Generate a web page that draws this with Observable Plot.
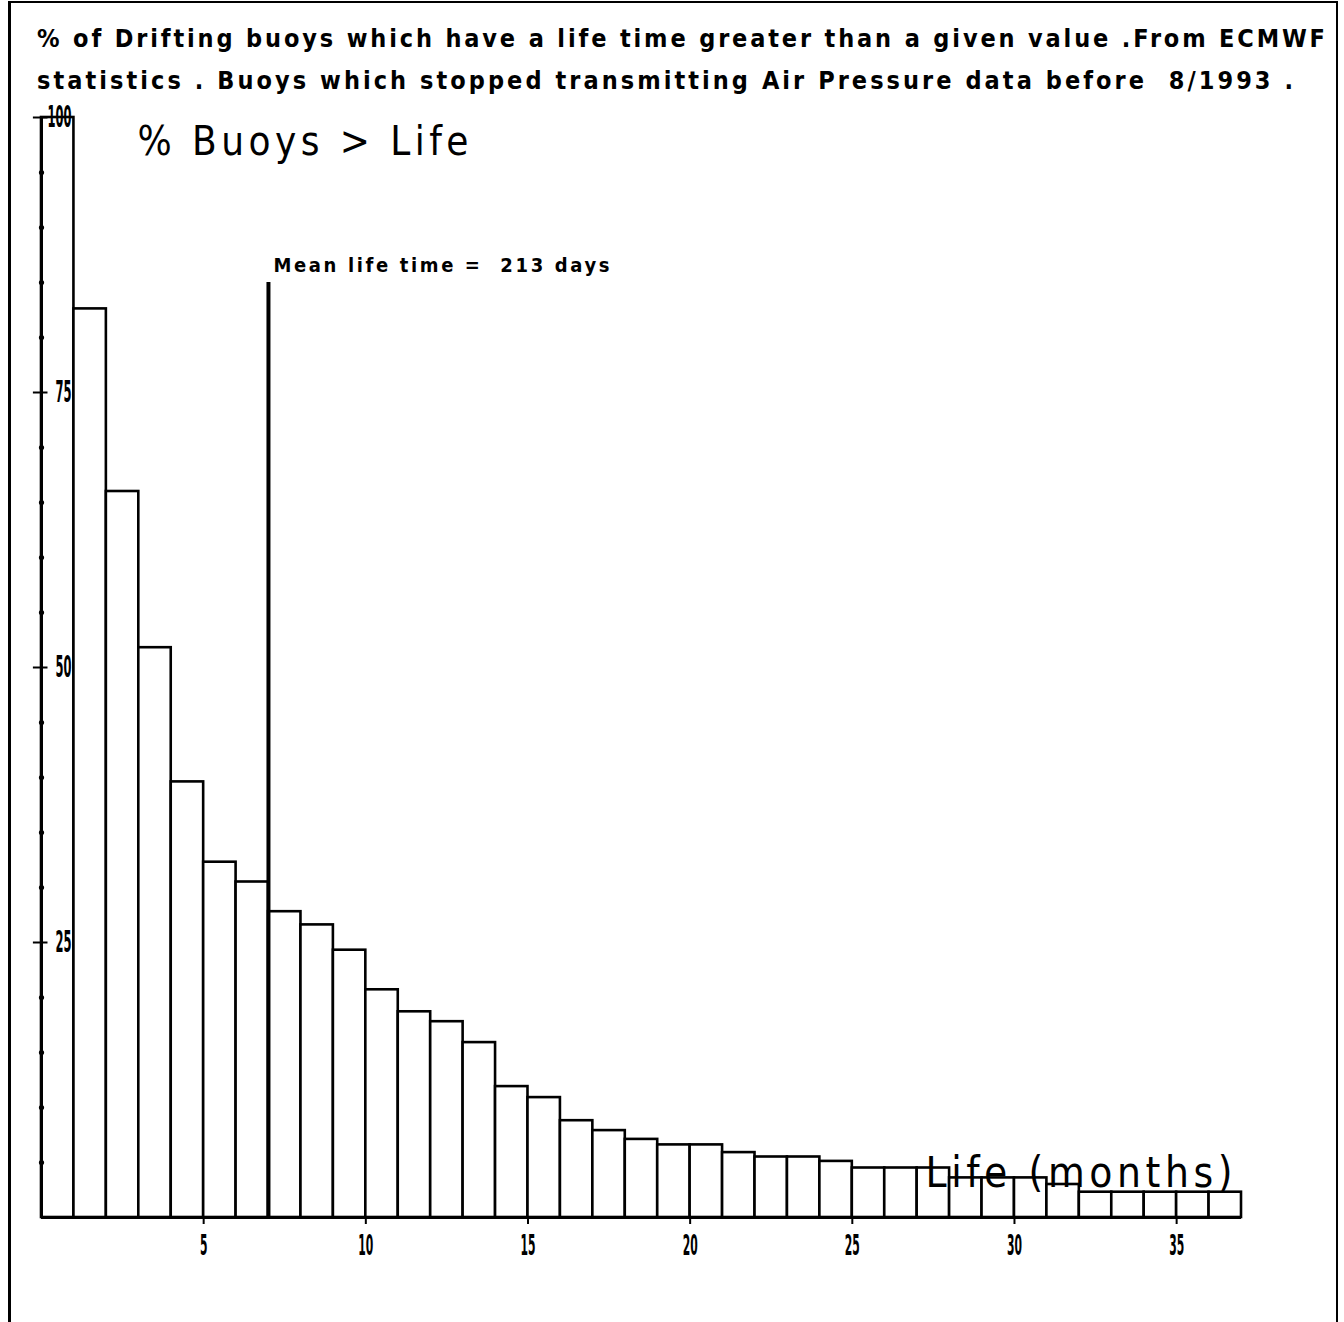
<!DOCTYPE html>
<html>
<head>
<meta charset="utf-8">
<script src="https://cdn.jsdelivr.net/npm/d3@7"></script>
<script src="https://cdn.jsdelivr.net/npm/@observablehq/plot@0.6"></script>
<style>
  html, body { margin: 0; padding: 0; background: #fff; }
  #page { position: relative; width: 1344px; height: 1322px; overflow: hidden;
          font-family: "DejaVu Sans Condensed", "DejaVu Sans", sans-serif; }
  #frame { position: absolute; left: 8px; top: 1px; width: 1330px; height: 1340px;
           border-left: 3px solid #000; border-top: 2px solid #000; border-right: 2px solid #000;
           box-sizing: border-box; pointer-events: none; }
  #head { position: relative; height: 100px; }
  .tl { position: absolute; left: 37px; white-space: pre; font-weight: bold; font-size: 25px;
        line-height: 1; color: #000; }
  #chart svg { display: block; }
</style>
</head>
<body>
<div id="page">
  <div id="head">
    <div class="tl" id="t1" style="top:26px" data-w="1288"></div>
    <div class="tl" id="t2" style="top:68px" data-w="1256"></div>
  </div>
  <div id="chart"></div>
  <div id="frame"></div>
</div>
<script>
// ---- data ----
const titleLine1 = "% of Drifting buoys which have a life time greater than a given value .From ECMWF";
const titleLine2 = "statistics . Buoys which stopped transmitting Air Pressure data before  8/1993 .";
const panelTitle = "% Buoys > Life";
const xTitle = "Life (months)";

// start month of each one-month bin
const monthStart = [0,1,2,3,4,5,6,7,8,9,10,11,12,13,14,15,16,17,18,19,20,21,22,23,24,25,26,27,28,29,30,31,32,33,34,35,36];
// % of buoys whose life exceeds the bin start
const pctBuoys = [100,82.6,66.0,51.8,39.6,32.3,30.5,27.8,26.6,24.3,20.7,18.7,17.8,15.9,11.9,10.9,8.8,7.9,7.1,6.6,6.6,5.9,5.5,5.5,5.1,4.5,4.5,4.5,3.6,3.6,3.6,3.0,2.3,2.3,2.3,2.3,2.3];

const meanLifeDays = 213;
const daysPerMonth = 365.25 / 12;
const meanLineTop = 85;

const xTicks = [5,10,15,20,25,30,35];
const yMajorTicks = [25,50,75,100];
const yMinorTicks = [5,10,15,20,30,35,40,45,55,60,65,70,80,85,90,95];

// ---- build ----
const bars = monthStart.map((m, i) => ({m0: m, m1: m + 1, pct: pctBuoys[i]}));
const meanMonths = meanLifeDays / daysPerMonth;
const meanLabel = `Mean life time =  ${meanLifeDays} days`;

document.getElementById("t1").textContent = titleLine1;
document.getElementById("t2").textContent = titleLine2;
for (const el of document.querySelectorAll(".tl")) {
  const target = +el.dataset.w;
  const n = el.textContent.length;
  const w = el.getBoundingClientRect().width;
  el.style.letterSpacing = ((target - w) / (n - 1)) + "px";
}

const font = "DejaVu Sans Condensed, DejaVu Sans, sans-serif";

const chart = Plot.plot({
  width: 1344,
  height: 1222,
  marginLeft: 41,
  marginRight: 103,
  marginTop: 17,
  marginBottom: 105,
  style: {fontFamily: font, background: "white", color: "black", overflow: "visible"},
  x: {domain: [0, 37], label: null},
  y: {domain: [0, 100], label: null},
  marks: [
    Plot.rectY(bars, {x1: "m0", x2: "m1", y: "pct", fill: "white", stroke: "black", strokeWidth: 2.6}),
    Plot.ruleX([0], {y1: 0, y2: 100, stroke: "black", strokeWidth: 3}),
    Plot.ruleY([0], {x1: 0, x2: 37, stroke: "black", strokeWidth: 3}),
    Plot.ruleY(yMajorTicks, {x1: -0.25, x2: 0.2, stroke: "black", strokeWidth: 2}),
    Plot.dot(yMinorTicks, {x: 0, y: d => d, r: 2.6, fill: "black", stroke: null}),
    Plot.axisY(yMajorTicks, {anchor: "left", tickSize: 0, tickPadding: 0, dx: 30, textAnchor: "end",
      fontSize: 31, fontWeight: "bold", fontFamily: font, label: null}),
    Plot.axisX(xTicks, {anchor: "bottom", tickSize: 7, tickPadding: 11, strokeWidth: 2,
      fontSize: 28, fontWeight: "bold", fontFamily: font, label: null}),
    Plot.ruleX([meanMonths], {y1: 0, y2: meanLineTop, stroke: "black", strokeWidth: 4}),
    Plot.text([meanLabel], {x: meanMonths, y: meanLineTop, text: d => d, dx: 5, dy: -17,
      textAnchor: "start", lineAnchor: "middle", fontSize: 20, fontWeight: "bold", fontFamily: font}),
    Plot.text([panelTitle], {frameAnchor: "top-left", text: d => d, dx: 96, dy: 25,
      textAnchor: "start", lineAnchor: "middle", fontSize: 40, fontFamily: font}),
    Plot.text([xTitle], {frameAnchor: "bottom-right", text: d => d, dx: -9, dy: -44,
      textAnchor: "end", lineAnchor: "middle", fontSize: 42, fontFamily: font})
  ]
});
document.getElementById("chart").appendChild(chart);

// stretch / squeeze texts to the plotter look of the original
const xTickSet = new Set(xTicks.map(String));
const yTickSet = new Set(yMajorTicks.map(String));
chart.querySelectorAll("text").forEach(t => {
  const s = t.textContent;
  const g = t.closest("g");
  const lab = g ? (g.getAttribute("aria-label") || "") : "";
  let L = null, adj = "spacing";
  if (s === meanLabel) L = 336;
  else if (s === panelTitle) L = 331;
  else if (s === xTitle) L = 307;
  else if (lab.startsWith("x-axis") && xTickSet.has(s)) { L = 7.5 * s.length; adj = "spacingAndGlyphs"; }
  else if (lab.startsWith("y-axis") && yTickSet.has(s)) { L = 8 * s.length; adj = "spacingAndGlyphs"; }
  if (L != null) {
    t.setAttribute("textLength", L);
    t.setAttribute("lengthAdjust", adj);
  }
});
</script>
</body>
</html>
